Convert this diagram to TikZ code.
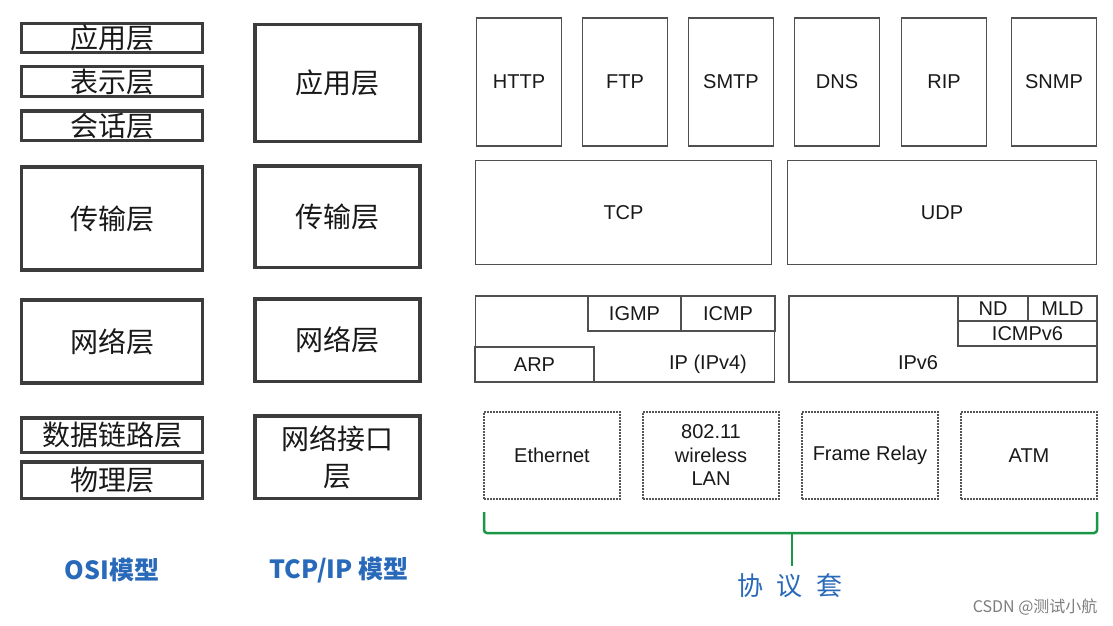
\documentclass[tikz,border=0pt]{standalone}
\usepackage{fontspec}
\setmainfont{Liberation Sans}
\newfontfamily\cjk{Noto Sans CJK SC}
\usetikzlibrary{positioning}
\definecolor{boxgray}{RGB}{60,60,60}
\definecolor{linegray}{RGB}{80,80,80}
\definecolor{dashgray}{RGB}{85,85,85}
\definecolor{textgray}{RGB}{25,25,25}
\definecolor{suitegreen}{RGB}{25,150,70}
\definecolor{modelblue}{RGB}{40,105,185}
\definecolor{markgray}{RGB}{125,125,125}
\tikzstyle{layer} = [rectangle, draw=boxgray, line width=3.5pt, text=textgray, align=center, inner sep=0pt, font=\cjk\fontsize{28}{37}\selectfont]
\tikzstyle{osi} = [layer, minimum width=181pt]
\tikzstyle{tcpip} = [layer, minimum width=165pt]
\tikzstyle{proto} = [rectangle, draw=linegray, line width=1.3pt, text=textgray, text centered, inner sep=0pt, font=\fontsize{20}{24}\selectfont]
\tikzstyle{app} = [proto, minimum width=85pt, minimum height=128pt]
\tikzstyle{link} = [rectangle, draw=dashgray, line width=1.3pt, dash pattern=on 2pt off 1pt, minimum width=136pt, minimum height=87pt, text=textgray, align=center, font=\fontsize{20}{23.5}\selectfont]
\tikzstyle{model} = [text=modelblue, font=\cjk\bfseries\fontsize{25}{30}\selectfont]
\tikzstyle{brace} = [draw=suitegreen, line width=2.5pt, rounded corners=3pt]

\begin{document}
\begin{tikzpicture}[x=1pt, y=-1pt, node distance=106pt]
	\fill[white] (0,0) rectangle (1113,626);
	\useasboundingbox (0,0) rectangle (1113,626);
	% OSI model
	\node (osiapp) [osi, minimum height=29pt] at (112,38) {应用层};
	\node (osipre) [osi, minimum height=29.5pt] at (112,81.5) {表示层};
	\node (osises) [osi, minimum height=29.5pt] at (112,125.5) {会话层};
	\node (ositra) [osi, minimum height=103pt] at (112,218.5) {传输层};
	\node (osinet) [osi, minimum height=83pt] at (112,341.5) {网络层};
	\node (osidl) [osi, minimum height=34.5pt] at (112,435) {数据链路层};
	\node (osiphy) [osi, minimum height=36.5pt] at (112,480) {物理层};
	% TCP/IP model
	\node (tcpapp) [tcpip, minimum height=116.5pt] at (337.5,83) {应用层};
	\node (tcptra) [tcpip, minimum height=101.5pt] at (337.5,216.5) {传输层};
	\node (tcpnet) [tcpip, minimum height=82.5pt] at (337.5,340) {网络层};
	\node (tcpif) [tcpip, minimum height=82.5pt] at (337.5,457) {网络接口\\层};
	% application protocols
	\node (http) [app] at (519,82) {HTTP};
	\node (ftp) [app, right of=http] {FTP};
	\node (smtp) [app, right of=ftp] {SMTP};
	\node (dns) [app, right of=smtp] {DNS};
	\node (rip) [app, right of=dns, xshift=1pt] {RIP};
	\node (snmp) [app, right of=rip, xshift=4pt] {SNMP};
	% transport
	\node (tcp) [proto, minimum width=296pt, minimum height=104pt] at (623.5,212.5) {TCP};
	\node (udp) [proto, minimum width=309pt, minimum height=104pt] at (942,212.5) {UDP};
	% internet layer
	\node (ipv4) [proto, minimum width=299pt, minimum height=86pt] at (625,339) {};
	\node (igmp) [proto, minimum width=93pt, minimum height=35pt] at (634.5,313.5) {IGMP};
	\node (icmp) [proto, minimum width=94pt, minimum height=35pt] at (728,313.5) {ICMP};
	\node (arp) [proto, minimum width=119pt, minimum height=35pt] at (534.5,364.5) {ARP};
	\node (iplabel) [text=textgray, font=\fontsize{20}{24}\selectfont] at (708,364) {IP (IPv4)};
	\node (ipv6) [proto, minimum width=308pt, minimum height=86pt] at (943,339) {};
	\node (nd) [proto, line width=1.8pt, minimum width=70pt, minimum height=25pt] at (993,308.5) {ND};
	\node (mld) [proto, line width=1.8pt, minimum width=69pt, minimum height=25pt] at (1062.5,308.5) {MLD};
	\node (icmpv6) [proto, minimum width=139pt, minimum height=25pt] at (1027.5,333.5) {ICMPv6};
	\node (ipv6label) [text=textgray, font=\fontsize{20}{24}\selectfont] at (918,363) {IPv6};
	% link layer
	\node (eth) [link] at (552,455.5) {Ethernet};
	\node (wlan) [link, node distance=159pt, right of=eth] {802.11\\wireless\\LAN};
	\node (frame) [link, node distance=159pt, right of=wlan] {Frame Relay};
	\node (atm) [link, node distance=159pt, right of=frame] {ATM};
	% captions
	\node (osicap) [model] at (112,570) {OSI模型};
	\node (tcpcap) [model] at (339,570) {TCP/IP 模型};
	\node (suite) [text=modelblue, font=\cjk\fontsize{26}{30}\selectfont] at (790,586) {协\hspace{14pt}议\hspace{14pt}套};
	\node (mark) [anchor=east, text=markgray, font=\cjk\fontsize{16}{19}\selectfont] at (1101,607) {CSDN @测试小航};
	% green brace
	\coordinate (bl) at (484,512);
	\coordinate (br) at (1097,512);
	\coordinate (bm) at (792,533);
	\coordinate (bt) at (792,566);
	\draw [brace] (bl) |- (bm) -| (br);
	\draw [brace] (bm) -- (bt);
\end{tikzpicture}
\end{document}
